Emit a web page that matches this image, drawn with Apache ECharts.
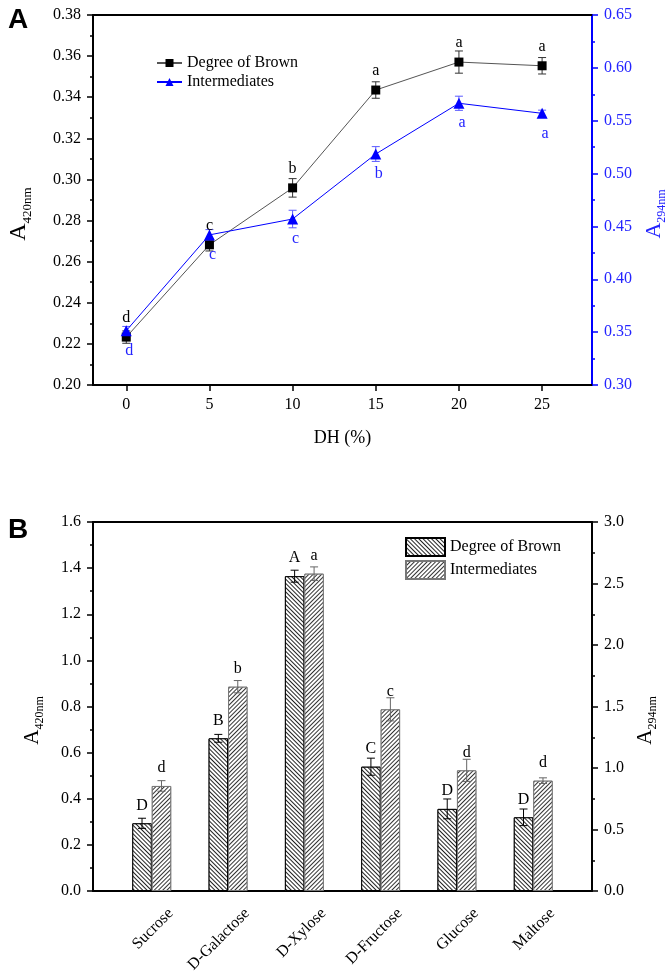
<!DOCTYPE html>
<html><head><meta charset="utf-8">
<script src="https://cdn.jsdelivr.net/npm/echarts@6/dist/echarts.min.js"></script>
<style>html,body{margin:0;padding:0;background:#fff}#c{width:666px;height:974px}</style>
</head><body><div id="c"></div>
<script>
// ---- Panel A data ----
const dhValues = [0, 5, 10, 15, 20, 25];
const dhTicks = [0, 5, 10, 15, 20, 25];
const brownA = [0.2233, 0.2682, 0.2959, 0.3435, 0.3571, 0.3553];
const brownAErr = [0.003, 0.003, 0.0045, 0.004, 0.0054, 0.004];
const brownALetters = ['d', 'c', 'b', 'a', 'a', 'a'];
const interA = [0.3514, 0.442, 0.457, 0.5185, 0.5665, 0.557];
const interAErr = [0.004, 0.005, 0.0083, 0.007, 0.0067, 0.003];
const interALetters = ['d', 'c', 'c', 'b', 'a', 'a'];

// ---- Panel B data ----
const sugars = ['Sucrose', 'D-Galactose', 'D-Xylose', 'D-Fructose', 'Glucose', 'Maltose'];
const sugarIdx = [0, 1, 2, 3, 4, 5];
const brownB = [0.2935, 0.662, 1.365, 0.539, 0.356, 0.3195];
const brownBErr = [0.022, 0.017, 0.026, 0.037, 0.043, 0.036];
const brownBLetters = ['D', 'B', 'A', 'C', 'D', 'D'];
const interB = [0.854, 1.661, 2.58, 1.477, 0.981, 0.897];
const interBErr = [0.043, 0.05, 0.055, 0.094, 0.09, 0.023];
const interBLetters = ['d', 'b', 'a', 'c', 'd', 'd'];

const SERIF = 'Liberation Serif';
const BLUE = '#0000ff';
const BLUE_T = '#2424ff';
// rotated category labels sit slightly right of their group (label anchor shift, in category units)
const LABEL_SHIFT = 0.25;

function errorBars(o) {
  return {
    type: 'custom', xAxisIndex: o.xi, yAxisIndex: o.yi, z: o.z || 6, silent: true,
    data: o.xs.map((x, i) => [x, o.ys[i], o.errs[i], i]),
    renderItem: function (params, api) {
      const x = api.value(0), y = api.value(1), e = api.value(2), i = api.value(3);
      const unit = api.size([1, 0])[0];
      const dx = o.shift ? o.shift * unit : 0;
      const p1 = api.coord([x, y + e]), p2 = api.coord([x, y - e]), p0 = api.coord([x, y]);
      const cx = p1[0] + dx, cap = o.cap;
      const st = { stroke: o.color, lineWidth: 1 };
      const ty = o.below ? p0[1] + o.gap : p0[1] - o.gap;
      return { type: 'group', children: [
        { type: 'line', shape: { x1: cx, y1: p1[1], x2: cx, y2: p2[1] }, style: st },
        { type: 'line', shape: { x1: cx - cap, y1: p1[1], x2: cx + cap, y2: p1[1] }, style: st },
        { type: 'line', shape: { x1: cx - cap, y1: p2[1], x2: cx + cap, y2: p2[1] }, style: st },
        { type: 'text', z2: 10, style: { text: o.letters[i], x: cx + (o.tdx || 0), y: ty,
          align: 'center', verticalAlign: o.below ? 'top' : 'bottom',
          fill: o.textColor, fontSize: 16, fontFamily: SERIF } }
      ] };
    }
  };
}

function yName(sub, color, big, small) {
  return {
    name: '{a|A}{b|' + sub + '}', nameLocation: 'middle', nameRotate: 90,
    nameTextStyle: { padding: [0, 28, 0, 0], rich: {
      a: { fontFamily: SERIF, fontSize: big, color: color, verticalAlign: 'bottom' },
      b: { fontFamily: SERIF, fontSize: small, color: color, verticalAlign: 'bottom', padding: [0, 0, -3, 0] }
    } }
  };
}

const tickStyle = (c) => ({ show: true, length: 6, lineStyle: { color: c, width: 1.5 } });
const minorStyle = (c) => ({ show: true, splitNumber: 2, length: 3, lineStyle: { color: c, width: 1.5 } });
const lineStyle = (c) => ({ show: true, onZero: false, lineStyle: { color: c, width: 2 } });
const lab = (c, fmt) => ({ fontFamily: SERIF, fontSize: 16, color: c, margin: 12, formatter: fmt });

const chart = echarts.init(document.getElementById('c'), null, { renderer: 'canvas' });
const option = {
  animation: false,
  backgroundColor: '#fff',
  grid: [
    { left: 93, right: 74, top: 15, height: 370, containLabel: false, outerBoundsMode: 'none' },
    { left: 93, right: 74, top: 522, height: 369, containLabel: false, outerBoundsMode: 'none' }
  ],
  graphic: [
    { type: 'text', left: 8, top: 6, style: { text: 'A', fontFamily: 'Liberation Sans', fontWeight: 'bold', fontSize: 28, fill: '#000' } },
    { type: 'text', left: 8, top: 516, style: { text: 'B', fontFamily: 'Liberation Sans', fontWeight: 'bold', fontSize: 28, fill: '#000' } }
  ],
  legend: [
    { left: 151, top: 50, orient: 'vertical', itemWidth: 25, itemHeight: 10, itemGap: 3, selectedMode: false,
      textStyle: { fontFamily: SERIF, fontSize: 16, color: '#000' },
      data: ['Degree of Brown', 'Intermediates'] },
    { left: 400, top: 532, orient: 'vertical', itemWidth: 39, itemHeight: 18, itemGap: 3, selectedMode: false, icon: 'rect',
      textStyle: { fontFamily: SERIF, fontSize: 16, color: '#000' },
      formatter: (n) => n.slice(3),
      data: ['B: Degree of Brown', 'B: Intermediates'] }
  ],
  xAxis: [
    { gridIndex: 0, type: 'value', min: -2, max: 28, position: 'bottom', splitLine: { show: false },
      axisLine: lineStyle('#000'),
      axisTick: Object.assign(tickStyle('#000'), { customValues: dhTicks }),
      axisLabel: Object.assign(lab('#000', (v) => String(v)), { customValues: dhTicks }),
      name: 'DH (%)', nameLocation: 'middle', nameGap: 44,
      nameTextStyle: { fontFamily: SERIF, fontSize: 18, color: '#000' } },
    { gridIndex: 0, type: 'value', min: -2, max: 28, position: 'top', splitLine: { show: false },
      axisLine: lineStyle('#000'), axisTick: { show: false }, axisLabel: { show: false } },
    { gridIndex: 1, type: 'value', min: -0.77, max: 5.77, position: 'bottom', splitLine: { show: false },
      axisLine: lineStyle('#000'), axisTick: { show: false },
      axisLabel: { customValues: sugarIdx.map((i) => i + LABEL_SHIFT), rotate: 45, margin: 20,
        fontFamily: SERIF, fontSize: 16, color: '#000', formatter: (v) => sugars[Math.round(v - LABEL_SHIFT)] } },
    { gridIndex: 1, type: 'value', min: -0.77, max: 5.77, position: 'top', splitLine: { show: false },
      axisLine: lineStyle('#000'), axisTick: { show: false }, axisLabel: { show: false } }
  ],
  yAxis: [
    Object.assign({ gridIndex: 0, type: 'value', min: 0.2, max: 0.38, interval: 0.02, position: 'left',
      splitLine: { show: false }, axisLine: lineStyle('#000'), axisTick: tickStyle('#000'), minorTick: minorStyle('#000'),
      axisLabel: lab('#000', (v) => v.toFixed(2)), nameGap: 62 }, yName('420nm', '#000', 24, 13)),
    Object.assign({ gridIndex: 0, type: 'value', min: 0.3, max: 0.65, interval: 0.05, position: 'right',
      splitLine: { show: false }, axisLine: lineStyle(BLUE), axisTick: tickStyle(BLUE), minorTick: minorStyle(BLUE),
      axisLabel: lab(BLUE_T, (v) => v.toFixed(2)), nameGap: 45 }, yName('294nm', BLUE_T, 22, 12)),
    Object.assign({ gridIndex: 1, type: 'value', min: 0, max: 1.6, interval: 0.2, position: 'left',
      splitLine: { show: false }, axisLine: lineStyle('#000'), axisTick: tickStyle('#000'), minorTick: minorStyle('#000'),
      axisLabel: lab('#000', (v) => v.toFixed(1)), nameGap: 50 }, yName('420nm', '#000', 21, 12)),
    Object.assign({ gridIndex: 1, type: 'value', min: 0, max: 3, interval: 0.5, position: 'right',
      splitLine: { show: false }, axisLine: lineStyle('#000'), axisTick: tickStyle('#000'), minorTick: minorStyle('#000'),
      axisLabel: lab('#000', (v) => v.toFixed(1)), nameGap: 36 }, yName('294nm', '#000', 21, 12))
  ],
  series: [
    errorBars({ xi: 0, yi: 0, xs: dhValues, ys: brownA, errs: brownAErr, letters: brownALetters,
      color: '#333', textColor: '#000', cap: 4, gap: 11, z: 2 }),
    errorBars({ xi: 0, yi: 1, xs: dhValues, ys: interA, errs: interAErr, letters: interALetters,
      color: '#5a5aff', textColor: BLUE_T, cap: 4, gap: 12, below: true, tdx: 3, z: 2 }),
    { name: 'Degree of Brown', type: 'line', xAxisIndex: 0, yAxisIndex: 0, z: 4,
      data: dhValues.map((x, i) => [x, brownA[i]]), symbol: 'rect', symbolSize: 9, showAllSymbol: true,
      lineStyle: { color: '#555', width: 1 }, itemStyle: { color: '#000' } },
    { name: 'Intermediates', type: 'line', xAxisIndex: 0, yAxisIndex: 1, z: 4,
      data: dhValues.map((x, i) => [x, interA[i]]), symbol: 'triangle', symbolSize: 11,
      lineStyle: { color: BLUE, width: 1 }, itemStyle: { color: BLUE } },
    { name: 'B: Degree of Brown', type: 'bar', xAxisIndex: 2, yAxisIndex: 2,
      data: sugarIdx.map((x, i) => [x, brownB[i]]), barWidth: '25.5%', barGap: '0%',
      itemStyle: { color: '#fff', borderColor: '#000', borderWidth: 1,
        decal: { symbol: 'rect', symbolSize: 1, color: '#222', backgroundColor: '#fff',
          dashArrayX: [1, 0], dashArrayY: [1, 2], rotation: Math.PI / 4 } } },
    { name: 'B: Intermediates', type: 'bar', xAxisIndex: 2, yAxisIndex: 3,
      data: sugarIdx.map((x, i) => [x, interB[i]]), barWidth: '25.5%', barGap: '0%',
      itemStyle: { color: '#fff', borderColor: '#777', borderWidth: 1,
        decal: { symbol: 'rect', symbolSize: 1, color: '#333', backgroundColor: '#fff',
          dashArrayX: [1, 0], dashArrayY: [1, 2], rotation: -Math.PI / 4 } } },
    errorBars({ xi: 2, yi: 2, xs: sugarIdx, ys: brownB, errs: brownBErr, letters: brownBLetters,
      color: '#000', textColor: '#000', cap: 4, gap: 10, shift: -0.1275, z: 8 }),
    errorBars({ xi: 2, yi: 3, xs: sugarIdx, ys: interB, errs: interBErr, letters: interBLetters,
      color: '#666', textColor: '#000', cap: 4, gap: 10, shift: 0.1275, z: 8 })
  ]
};
chart.setOption(option);
</script></body></html>
